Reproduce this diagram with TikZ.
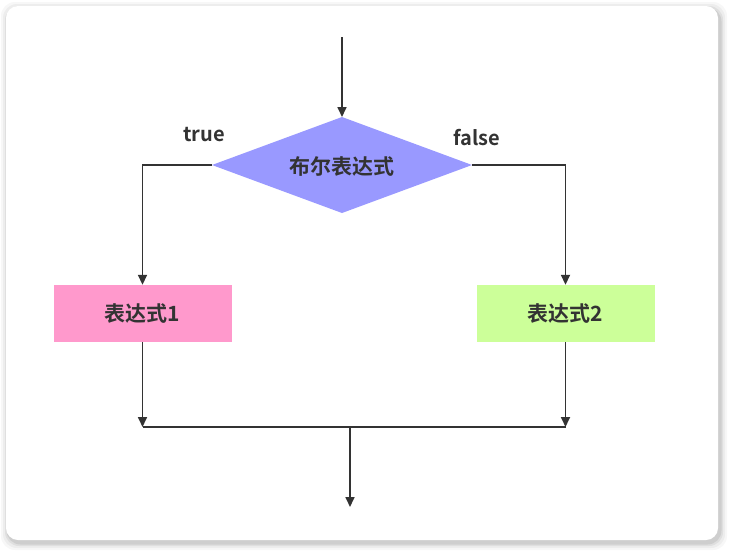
\documentclass[tikz,border=0pt]{standalone}
\usepackage{fontspec}
\setmainfont{Noto Sans CJK SC}[BoldFont={* Bold}]
\usetikzlibrary{arrows.meta}
\definecolor{ink}{HTML}{333333}
\definecolor{dia}{HTML}{9999FF}
\definecolor{pinkbox}{HTML}{FF99CC}
\definecolor{greenbox}{HTML}{CCFF99}
\tikzset{
  conn/.style={draw=ink, line width=1.7pt},
  arr/.style={conn, -{Triangle[length=10pt,width=9pt]}},
  lbl/.style={font=\bfseries\fontsize{20}{24}\selectfont, text=ink},
  cjk/.style={font=\bfseries\fontsize{21}{25}\selectfont, text=ink},
  boxstyle/.style={cjk, draw=none, minimum width=178pt, minimum height=57pt, inner sep=0pt},
}
\begin{document}
\begin{tikzpicture}[x=1pt,y=-1pt]
\useasboundingbox (0,0) rectangle (732,555);
% card shadow
\foreach \i/\o in {7/0.03,5/0.04,3/0.06,1.5/0.08}{
  \fill[black, opacity=\o, rounded corners=14pt] (6-\i+2,6-\i+3) rectangle (718+\i+2,540+\i+3);
}
\fill[white, rounded corners=12pt] (6,6) rectangle (718,540);
% decision diamond
\coordinate (condN) at (342,117);
\coordinate (condS) at (342,213);
\coordinate (condW) at (212,165);
\coordinate (condE) at (472,165);
\fill[dia] (condN) -- (condE) -- (condS) -- (condW) -- cycle;
\node[cjk] (cond) at (342,166) {布尔表达式};
% boxes
\coordinate (start) at (342,37);
\node[boxstyle, fill=pinkbox] (e1) at (142.5,313.5) {表达式1};
\node[boxstyle, fill=greenbox] (e2) at (565.5,313.5) {表达式2};
\coordinate (jl) at (142.5,427);
\coordinate (jr) at (565.5,427);
\coordinate (jm) at (350,427);
\coordinate (endp) at (350,507);
\node[lbl] (t) at (204,135) {true};
\node[lbl] (f) at (477,138) {false};
% connectors
\draw[arr] (start) -- (condN);
\draw[arr] (condW) -| (e1.north);
\draw[arr] (condE) -| (e2.north);
\draw[arr] (e1.south) -- (jl);
\draw[arr] (e2.south) -- (jr);
\draw[conn] (jl) -- (jr);
\draw[arr] (jm) -- (endp);
\end{tikzpicture}
\end{document}
